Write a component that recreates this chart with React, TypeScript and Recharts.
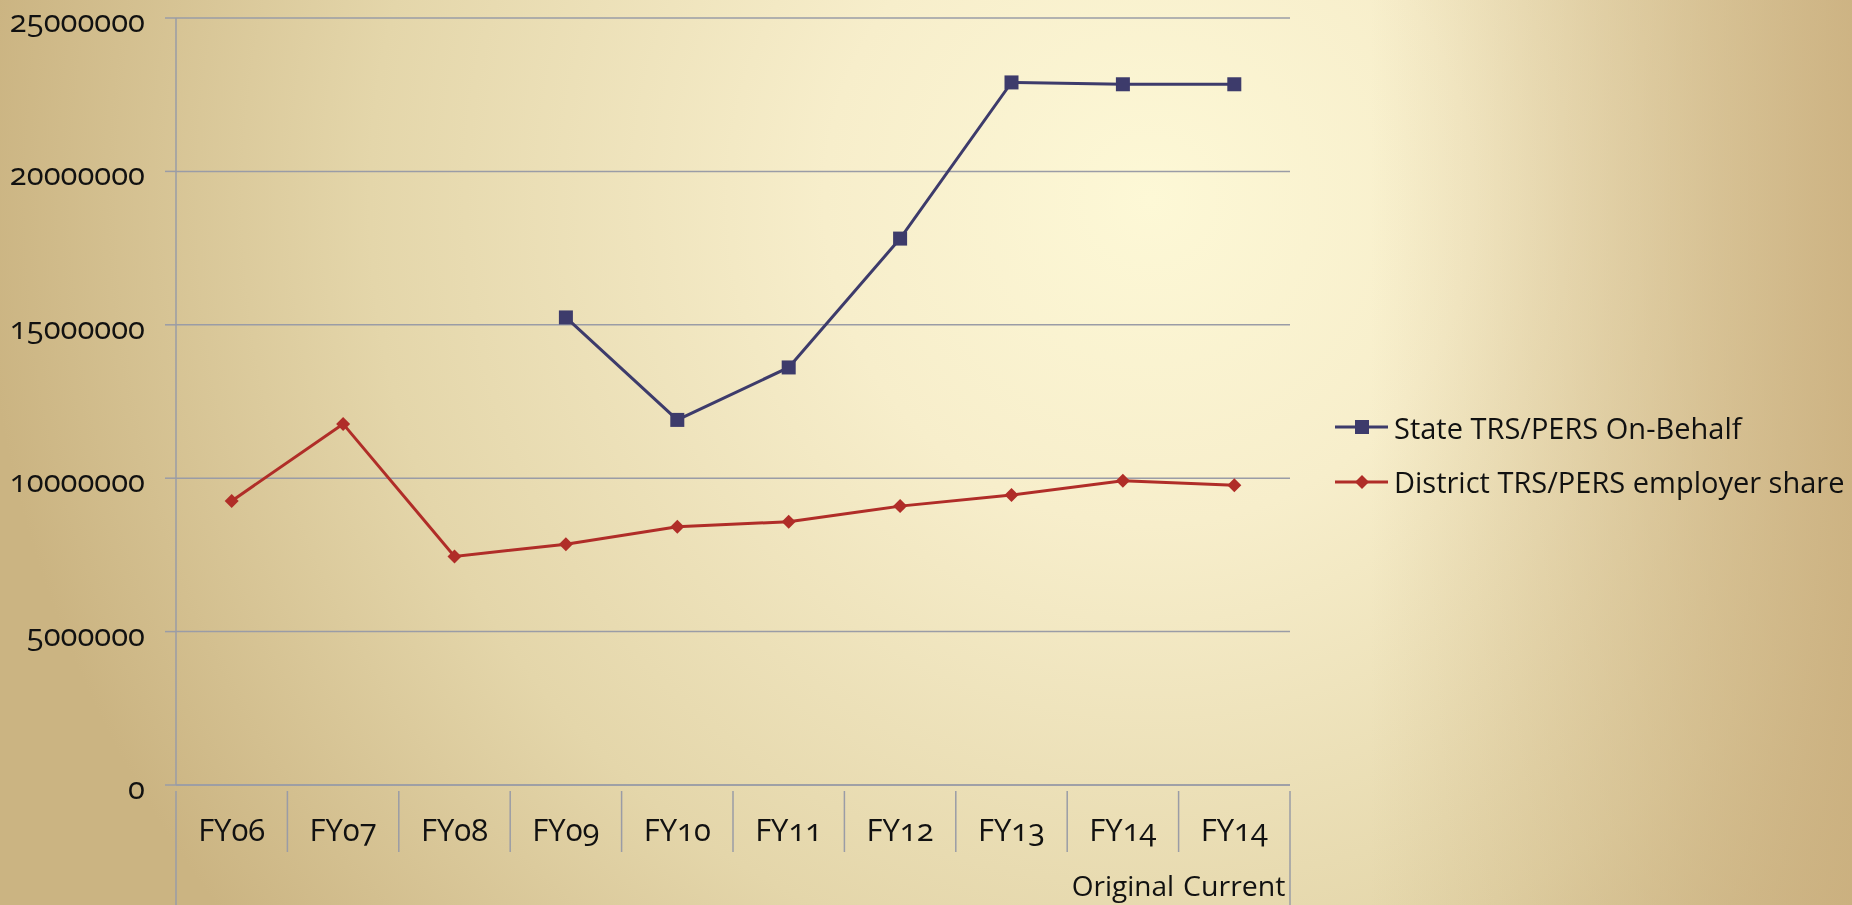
import React from 'react'
import {
  LineChart,
  Line,
  XAxis,
  YAxis,
  CartesianGrid,
} from 'recharts'

// Fiscal years on the category axis (second line used for the two FY14 columns)
const categories = ['FY06', 'FY07', 'FY08', 'FY09', 'FY10', 'FY11', 'FY12', 'FY13', 'FY14', 'FY14']
const subLabels = ['', '', '', '', '', '', '', '', 'Original', 'Current']

const stateOnBehalf: (number | null)[] = [
  null, null, null, 15240000, 11900000, 13610000, 17810000, 22900000, 22840000, 22840000,
]
const districtShare: number[] = [
  9260000, 11770000, 7450000, 7850000, 8420000, 8580000, 9090000, 9450000, 9920000, 9770000,
]

const yTicks = [0, 5000000, 10000000, 15000000, 20000000, 25000000]

const STATE_NAME = 'State TRS/PERS On-Behalf'
const DISTRICT_NAME = 'District TRS/PERS employer share'
const NAVY = '#3d3b6b'
const RED = '#b02d28'
const GRID = '#9a9ca6'
const FONT = '"Open Sans", "Noto Sans", sans-serif'
const AXIS_FONT_SIZE = 31

const WIDTH = 1852
const HEIGHT = 905
const MARGIN = { top: 18, right: 562, left: 0, bottom: 0 }
const Y_AXIS_WIDTH = 176
const X_AXIS_HEIGHT = 120
const PLOT_W = WIDTH - MARGIN.right - Y_AXIS_WIDTH
const BAND = PLOT_W / categories.length

const data = categories.map((c, i) => ({
  key: `${c}-${i}`,
  name: c,
  sub: subLabels[i],
  state: stateOnBehalf[i],
  district: districtShare[i],
}))

const SquareDot = (props: any) => {
  const { cx, cy, value } = props
  if (value == null || cx == null || cy == null) return null
  return <rect x={cx - 7} y={cy - 7} width={14} height={14} fill={NAVY} />
}

const DiamondDot = (props: any) => {
  const { cx, cy, value } = props
  if (value == null || cx == null || cy == null) return null
  return (
    <polygon
      points={`${cx},${cy - 7} ${cx + 7},${cy} ${cx},${cy + 7} ${cx - 7},${cy}`}
      fill={RED}
    />
  )
}

// category label plus the separator lines between categories
const CategoryTick = (props: any) => {
  const { x, y, index } = props
  const axisY = y - 8
  const left = x - BAND / 2
  const right = x + BAND / 2
  const last = index === categories.length - 1
  return (
    <g>
      <line
        x1={left}
        y1={axisY}
        x2={left}
        y2={index === 0 ? HEIGHT : axisY + 61}
        stroke={GRID}
        strokeWidth={1.5}
      />
      {last && (
        <line x1={right} y1={axisY} x2={right} y2={HEIGHT} stroke={GRID} strokeWidth={1.5} />
      )}
      <text
        x={x}
        y={axisY + 42}
        textAnchor="middle"
        dominantBaseline="middle"
        fontSize={AXIS_FONT_SIZE}
        fontFamily={FONT}
        fill="#111"
        style={{ fontVariantNumeric: 'oldstyle-nums' }}
      >
        {data[index].name}
      </text>
      {data[index].sub && (
        <text
          x={x}
          y={axisY + 98}
          textAnchor="middle"
          dominantBaseline="middle"
          fontSize={28}
          fontFamily={FONT}
          fill="#111"
          textLength={BAND - 9}
          lengthAdjust="spacingAndGlyphs"
        >
          {data[index].sub}
        </text>
      )}
    </g>
  )
}

const legendRows = [
  { name: STATE_NAME, color: NAVY, shape: 'square' },
  { name: DISTRICT_NAME, color: RED, shape: 'diamond' },
]

const ChartLegend = () => (
  <div
    style={{
      position: 'absolute',
      left: 1335,
      top: 400,
      fontFamily: FONT,
      fontSize: 29,
      color: '#111',
    }}
  >
    {legendRows.map(r => (
      <div key={r.name} style={{ display: 'flex', alignItems: 'center', height: 54.5 }}>
        <svg width={58} height={20} style={{ marginRight: 1 }}>
          <line x1={0} y1={10} x2={53} y2={10} stroke={r.color} strokeWidth={3} />
          {r.shape === 'square' ? (
            <rect x={20} y={3} width={14} height={14} fill={r.color} />
          ) : (
            <polygon points="27,3 34,10 27,17 20,10" fill={r.color} />
          )}
        </svg>
        <span style={{ whiteSpace: 'nowrap' }}>{r.name}</span>
      </div>
    ))}
  </div>
)

export default function App() {
  return (
    <div
      style={{
        position: 'fixed',
        left: 0,
        top: 0,
        width: WIDTH,
        height: HEIGHT,
        overflow: 'hidden',
        background: [
          'linear-gradient(to right, rgba(201,173,124,0) 74%, rgba(201,173,124,0.45) 88%, rgba(201,173,124,0.85) 100%)',
          'radial-gradient(ellipse 1300px 1300px at 1150px 200px, #fdf8d6 0%, #f7eecb 25%, #e4d6aa 60%, #cbb482 90%)',
        ].join(', '),
      }}
    >
      <LineChart width={WIDTH} height={HEIGHT} data={data} margin={MARGIN}>
        <CartesianGrid vertical={false} stroke={GRID} strokeWidth={1.5} />
        <XAxis
          dataKey="key"
          scale="band"
          height={X_AXIS_HEIGHT}
          axisLine={{ stroke: GRID, strokeWidth: 1.5 }}
          tickLine={false}
          interval={0}
          tick={<CategoryTick />}
          tickMargin={8}
        />
        <YAxis
          width={Y_AXIS_WIDTH}
          domain={[0, 25000000]}
          ticks={yTicks}
          interval={0}
          axisLine={{ stroke: GRID, strokeWidth: 1.5 }}
          tickLine={{ stroke: GRID, strokeWidth: 1.5 }}
          tickSize={11}
          tickMargin={20}
          tick={{
            fontSize: AXIS_FONT_SIZE,
            fill: '#111',
            fontFamily: FONT,
            dy: 3,
            style: { fontVariantNumeric: 'oldstyle-nums' },
          }}
        />
        <Line
          dataKey="state"
          name={STATE_NAME}
          stroke={NAVY}
          strokeWidth={3}
          dot={<SquareDot />}
          activeDot={false}
          isAnimationActive={false}
        />
        <Line
          dataKey="district"
          name={DISTRICT_NAME}
          stroke={RED}
          strokeWidth={3}
          dot={<DiamondDot />}
          activeDot={false}
          isAnimationActive={false}
        />
      </LineChart>
      <ChartLegend />
    </div>
  )
}
